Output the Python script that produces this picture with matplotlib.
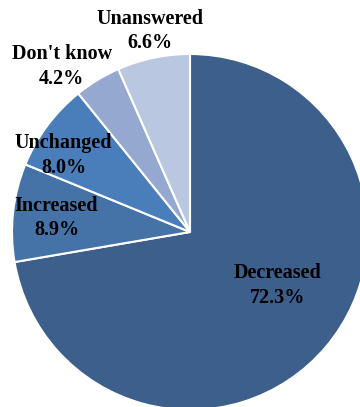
import matplotlib
matplotlib.use("Agg")
import matplotlib.pyplot as plt
import numpy as np

categories = ["Decreased", "Increased", "Unchanged", "Don't know", "Unanswered"]
values = [72.3, 8.9, 8.0, 4.2, 6.6]
colors = ["#3C5F8C", "#4572A7", "#4A7EBB", "#95A8D0", "#B9C7E1"]
# label positions in units of radius, relative to pie centre
label_pos = [(0.49, -0.30), (-0.75, 0.08), (-0.71, 0.43), (-0.72, 0.93), (-0.225, 1.13)]

W, H = 360, 407
fig = plt.figure(figsize=(W / 100, H / 100), dpi=100)
cx, cy, r = 190, 407 - 232, 178
ax = fig.add_axes([(cx - r) / W, (cy - r) / H, 2 * r / W, 2 * r / H])
ax.pie(values, colors=colors, startangle=90, counterclock=False, radius=1,
       wedgeprops=dict(edgecolor="white", linewidth=1.5))
ax.set_xlim(-1, 1)
ax.set_ylim(-1, 1)
ax.set_aspect("equal")
ax.axis("off")

for cat, v, (x, y) in zip(categories, values, label_pos):
    ax.text(x, y, f"{cat}\n{v:.1f}%", ha="center", va="center",
            family="Liberation Serif", fontweight="bold", fontsize=14.5,
            linespacing=1.3, color="black")

fig.savefig("out.png", dpi=100)
